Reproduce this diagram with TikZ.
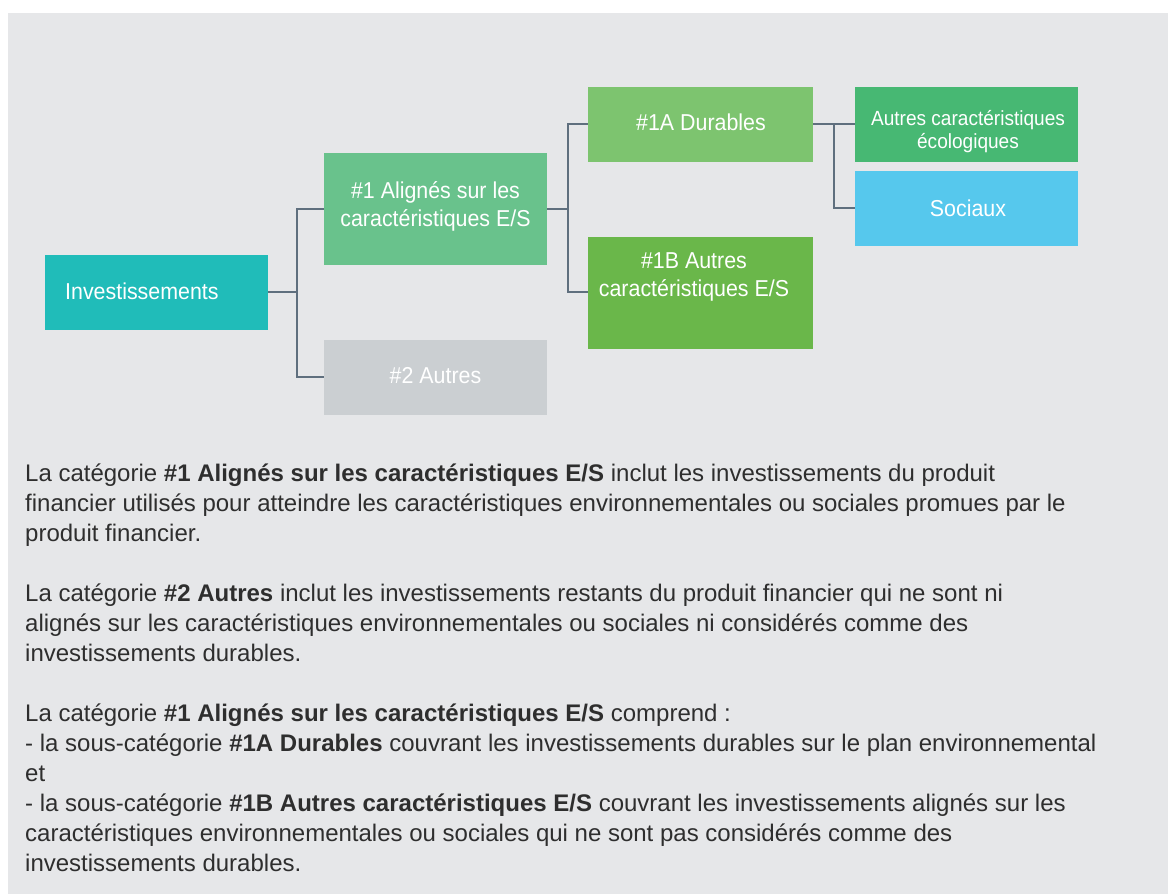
\documentclass[tikz,border=0pt]{standalone}
\usepackage{fontspec}
\setmainfont{Liberation Sans}
\newfontfamily\boxfont[FakeStretch=0.93]{Liberation Sans}
\definecolor{bg}{HTML}{E6E7E9}
\definecolor{linec}{HTML}{5F6F7E}
\definecolor{cinv}{HTML}{20BCB9}
\definecolor{cone}{HTML}{69C28C}
\definecolor{ctwo}{HTML}{CBCFD2}
\definecolor{conea}{HTML}{7DC46F}
\definecolor{coneb}{HTML}{6AB74A}
\definecolor{ceco}{HTML}{47B873}
\definecolor{csoc}{HTML}{56C8ED}
\definecolor{txt}{HTML}{2E2E2E}
\tikzset{
  box/.style={anchor=north west, inner sep=0pt},
  boxtext/.style={text=white, inner sep=0pt, align=center, font=\boxfont\fontsize{23}{28}\selectfont},
  smalltext/.style={text=white, inner sep=0pt, align=center, font=\boxfont\fontsize{20.5}{23}\selectfont},
  conn/.style={draw=linec, line width=1.3pt},
  bodyline/.style={anchor=base west, inner sep=0pt, text=txt, font=\fontsize{24}{30}\selectfont},
}
\begin{document}
\begin{tikzpicture}[x=1pt,y=-1pt]
\useasboundingbox (0,0) rectangle (1168,894);
\fill[white] (0,0) rectangle (1168,894);
\fill[bg] (8,13) rectangle (1168,894);
% boxes
\node[box, fill=cinv, minimum width=223pt, minimum height=75pt] (inv) at (45,255) {};
\node[boxtext, anchor=west] (invt) at (65,291) {Investissements};
\node[box, fill=cone, minimum width=223pt, minimum height=112pt] (one) at (324,153) {};
\node[boxtext] (onet) at (435.5,206) {\#1 Alignés sur les\\caractéristiques E/S};
\node[box, fill=ctwo, minimum width=223pt, minimum height=75pt] (two) at (324,340) {};
\node[boxtext] (twot) at (435.5,376) {\#2 Autres};
\node[box, fill=conea, minimum width=225pt, minimum height=75pt] (onea) at (588,87) {};
\node[boxtext] (oneat) at (701,122) {\#1A Durables};
\node[box, fill=coneb, minimum width=225pt, minimum height=112pt] (oneb) at (588,237) {};
\node[boxtext] (onebt) at (694,277) {\#1B Autres\\caractéristiques E/S};
\node[box, fill=ceco, minimum width=223pt, minimum height=75pt] (eco) at (855,87) {};
\node[smalltext] (ecot) at (968,132) {Autres caractéristiques\\écologiques};
\node[box, fill=csoc, minimum width=223pt, minimum height=75pt] (soc) at (855,171) {};
\node[boxtext] (soct) at (968,208) {Sociaux};
% connectors
\coordinate (j1) at (297,292);
\coordinate (j2) at (568,209);
\coordinate (j3) at (834,124);
\draw[conn] (inv.east |- j1) -- (j1);
\draw[conn] (one.west |- 0,209) -| (j1 |- 0,377) -- (two.west |- 0,377);
\draw[conn] (one.east |- j2) -- (j2);
\draw[conn] (onea.west |- 0,124) -| (j2 |- 0,292) -- (oneb.west |- 0,292);
\draw[conn] (onea.east |- j3) -- (eco.west |- j3);
\draw[conn] (j3) |- (soc.west |- 0,208);
% body text
\node[bodyline] (l1) at (25,481) {La catégorie \textbf{\#1 Alignés sur les caractéristiques E/S} inclut les investissements du produit};
\node[bodyline] (l2) at (25,511) {financier utilisés pour atteindre les caractéristiques environnementales ou sociales promues par le};
\node[bodyline] (l3) at (25,541) {produit financier.};
\node[bodyline] (l4) at (25,601) {La catégorie \textbf{\#2 Autres} inclut les investissements restants du produit financier qui ne sont ni};
\node[bodyline] (l5) at (25,631) {alignés sur les caractéristiques environnementales ou sociales ni considérés comme des};
\node[bodyline] (l6) at (25,661) {investissements durables.};
\node[bodyline] (l7) at (25,721) {La catégorie \textbf{\#1 Alignés sur les caractéristiques E/S} comprend :};
\node[bodyline] (l8) at (25,751) {- la sous-catégorie \textbf{\#1A Durables} couvrant les investissements durables sur le plan environnemental};
\node[bodyline] (l9) at (25,781) {et};
\node[bodyline] (l10) at (25,811) {- la sous-catégorie \textbf{\#1B Autres caractéristiques E/S} couvrant les investissements alignés sur les};
\node[bodyline] (l11) at (25,841) {caractéristiques environnementales ou sociales qui ne sont pas considérés comme des};
\node[bodyline] (l12) at (25,871) {investissements durables.};
\end{tikzpicture}
\end{document}
